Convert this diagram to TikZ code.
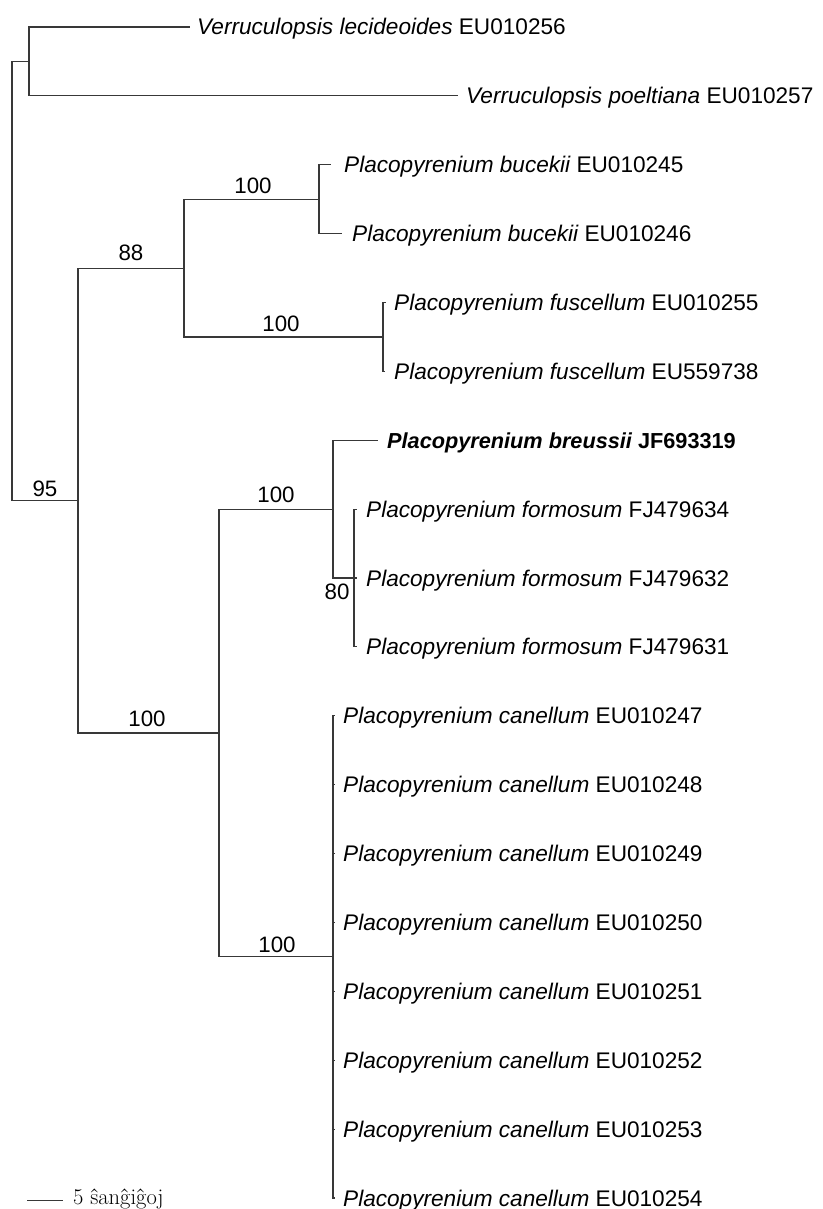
\documentclass[tikz,border=0pt]{standalone}
\usepackage{fontspec}
\newfontfamily\arial{Liberation Sans}
\begin{document}
\begin{tikzpicture}[x=1pt,y=-1pt,
  edge/.style={draw=black!78,line width=1.1pt},
  leaf/.style={anchor=base west,inner sep=0pt,yshift=-8pt,font=\arial\fontsize{22.6}{26}\selectfont},
  supp/.style={anchor=center,inner sep=0pt,font=\arial\fontsize{22.3}{26}\selectfont}]
\useasboundingbox (0,0) rectangle (822,1209);
% internal nodes
\coordinate (nV) at (29,61.5);
\coordinate (nBuc) at (319,199.2);
\coordinate (nFus) at (383,337);
\coordinate (n88) at (184,268.1);
\coordinate (n80) at (354,578);
\coordinate (nBF) at (333,509.2);
\coordinate (nCan) at (333,956.9);
\coordinate (n100b) at (219,733);
\coordinate (n95) at (78,500.6);
\coordinate (root) at (12,281);
% leaf tips
\coordinate (t1) at (190,27);
\coordinate (t2) at (458,95.9);
\coordinate (t3) at (331,164.8);
\coordinate (t4) at (342,233.6);
\coordinate (t5) at (386,302.5);
\coordinate (t6) at (385,371.4);
\coordinate (t7) at (378,440.3);
\coordinate (t8) at (357,509.2);
\coordinate (t9) at (357,578);
\coordinate (t10) at (357,646.9);
\coordinate (t11) at (335,715.8);
\coordinate (t12) at (335,784.7);
\coordinate (t13) at (335,853.6);
\coordinate (t14) at (335,922.4);
\coordinate (t15) at (335,991.3);
\coordinate (t16) at (335,1060.2);
\coordinate (t17) at (335,1129.1);
\coordinate (t18) at (335,1198);
% leaf labels
\node[leaf] (l1) at (197,27) {\itshape Verruculopsis lecideoides\upshape{} EU010256};
\node[leaf] (l2) at (466,95.9) {\itshape Verruculopsis poeltiana\upshape{} EU010257};
\node[leaf] (l3) at (344,164.8) {\itshape Placopyrenium bucekii\upshape{} EU010245};
\node[leaf] (l4) at (352,233.6) {\itshape Placopyrenium bucekii\upshape{} EU010246};
\node[leaf] (l5) at (394,302.5) {\itshape Placopyrenium fuscellum\upshape{} EU010255};
\node[leaf] (l6) at (394,371.4) {\itshape Placopyrenium fuscellum\upshape{} EU559738};
\node[leaf,font=\arial\fontsize{21.7}{26}\selectfont] (l7) at (387,440.3) {\bfseries\itshape Placopyrenium breussii\upshape{} JF693319};
\node[leaf] (l8) at (366,509.2) {\itshape Placopyrenium formosum\upshape{} FJ479634};
\node[leaf] (l9) at (366,578) {\itshape Placopyrenium formosum\upshape{} FJ479632};
\node[leaf] (l10) at (366,646.9) {\itshape Placopyrenium formosum\upshape{} FJ479631};
\node[leaf] (l11) at (343,715.8) {\itshape Placopyrenium canellum\upshape{} EU010247};
\node[leaf] (l12) at (343,784.7) {\itshape Placopyrenium canellum\upshape{} EU010248};
\node[leaf] (l13) at (343,853.6) {\itshape Placopyrenium canellum\upshape{} EU010249};
\node[leaf] (l14) at (343,922.4) {\itshape Placopyrenium canellum\upshape{} EU010250};
\node[leaf] (l15) at (343,991.3) {\itshape Placopyrenium canellum\upshape{} EU010251};
\node[leaf] (l16) at (343,1060.2) {\itshape Placopyrenium canellum\upshape{} EU010252};
\node[leaf] (l17) at (343,1129.1) {\itshape Placopyrenium canellum\upshape{} EU010253};
\node[leaf] (l18) at (343,1198) {\itshape Placopyrenium canellum\upshape{} EU010254};
% edges
\draw[edge] (root) |- (nV);
\draw[edge] (root) |- (n95);
\draw[edge] (nV) |- (t1);
\draw[edge] (nV) |- (t2);
\draw[edge] (n95) |- (n88);
\draw[edge] (n95) |- (n100b);
\draw[edge] (n88) |- (nBuc);
\draw[edge] (n88) |- (nFus);
\draw[edge] (nBuc) |- (t3);
\draw[edge] (nBuc) |- (t4);
\draw[edge] (nFus) |- (t5);
\draw[edge] (nFus) |- (t6);
\draw[edge] (n100b) |- (nBF);
\draw[edge] (n100b) |- (nCan);
\draw[edge] (nBF) |- (t7);
\draw[edge] (nBF) |- (n80);
\draw[edge] (n80) |- (t8);
\draw[edge] (n80) |- (t9);
\draw[edge] (n80) |- (t10);
\foreach \i in {11,...,18} { \draw[edge] (nCan) |- (t\i); }
% support values
\node[supp] (s95) at (45,489) {95};
\node[supp] (s88) at (131,253) {88};
\node[supp] (sBuc) at (253,186) {100};
\node[supp] (sFus) at (281,324) {100};
\node[supp] (sBF) at (276,495) {100};
\node[supp] (s80) at (337,592) {80};
\node[supp] (s100b) at (147,719) {100};
\node[supp] (sCan) at (277,945) {100};
% scale bar
\coordinate (sb1) at (27,1200);
\coordinate (sb2) at (63,1200);
\draw[edge,line width=0.9pt] (sb1) -- (sb2);
\node[anchor=base west,inner sep=0pt,font=\fontsize{22.5}{26}\selectfont] (sbt) at (73,1204) {5 ŝanĝiĝoj};
\end{tikzpicture}
\end{document}
